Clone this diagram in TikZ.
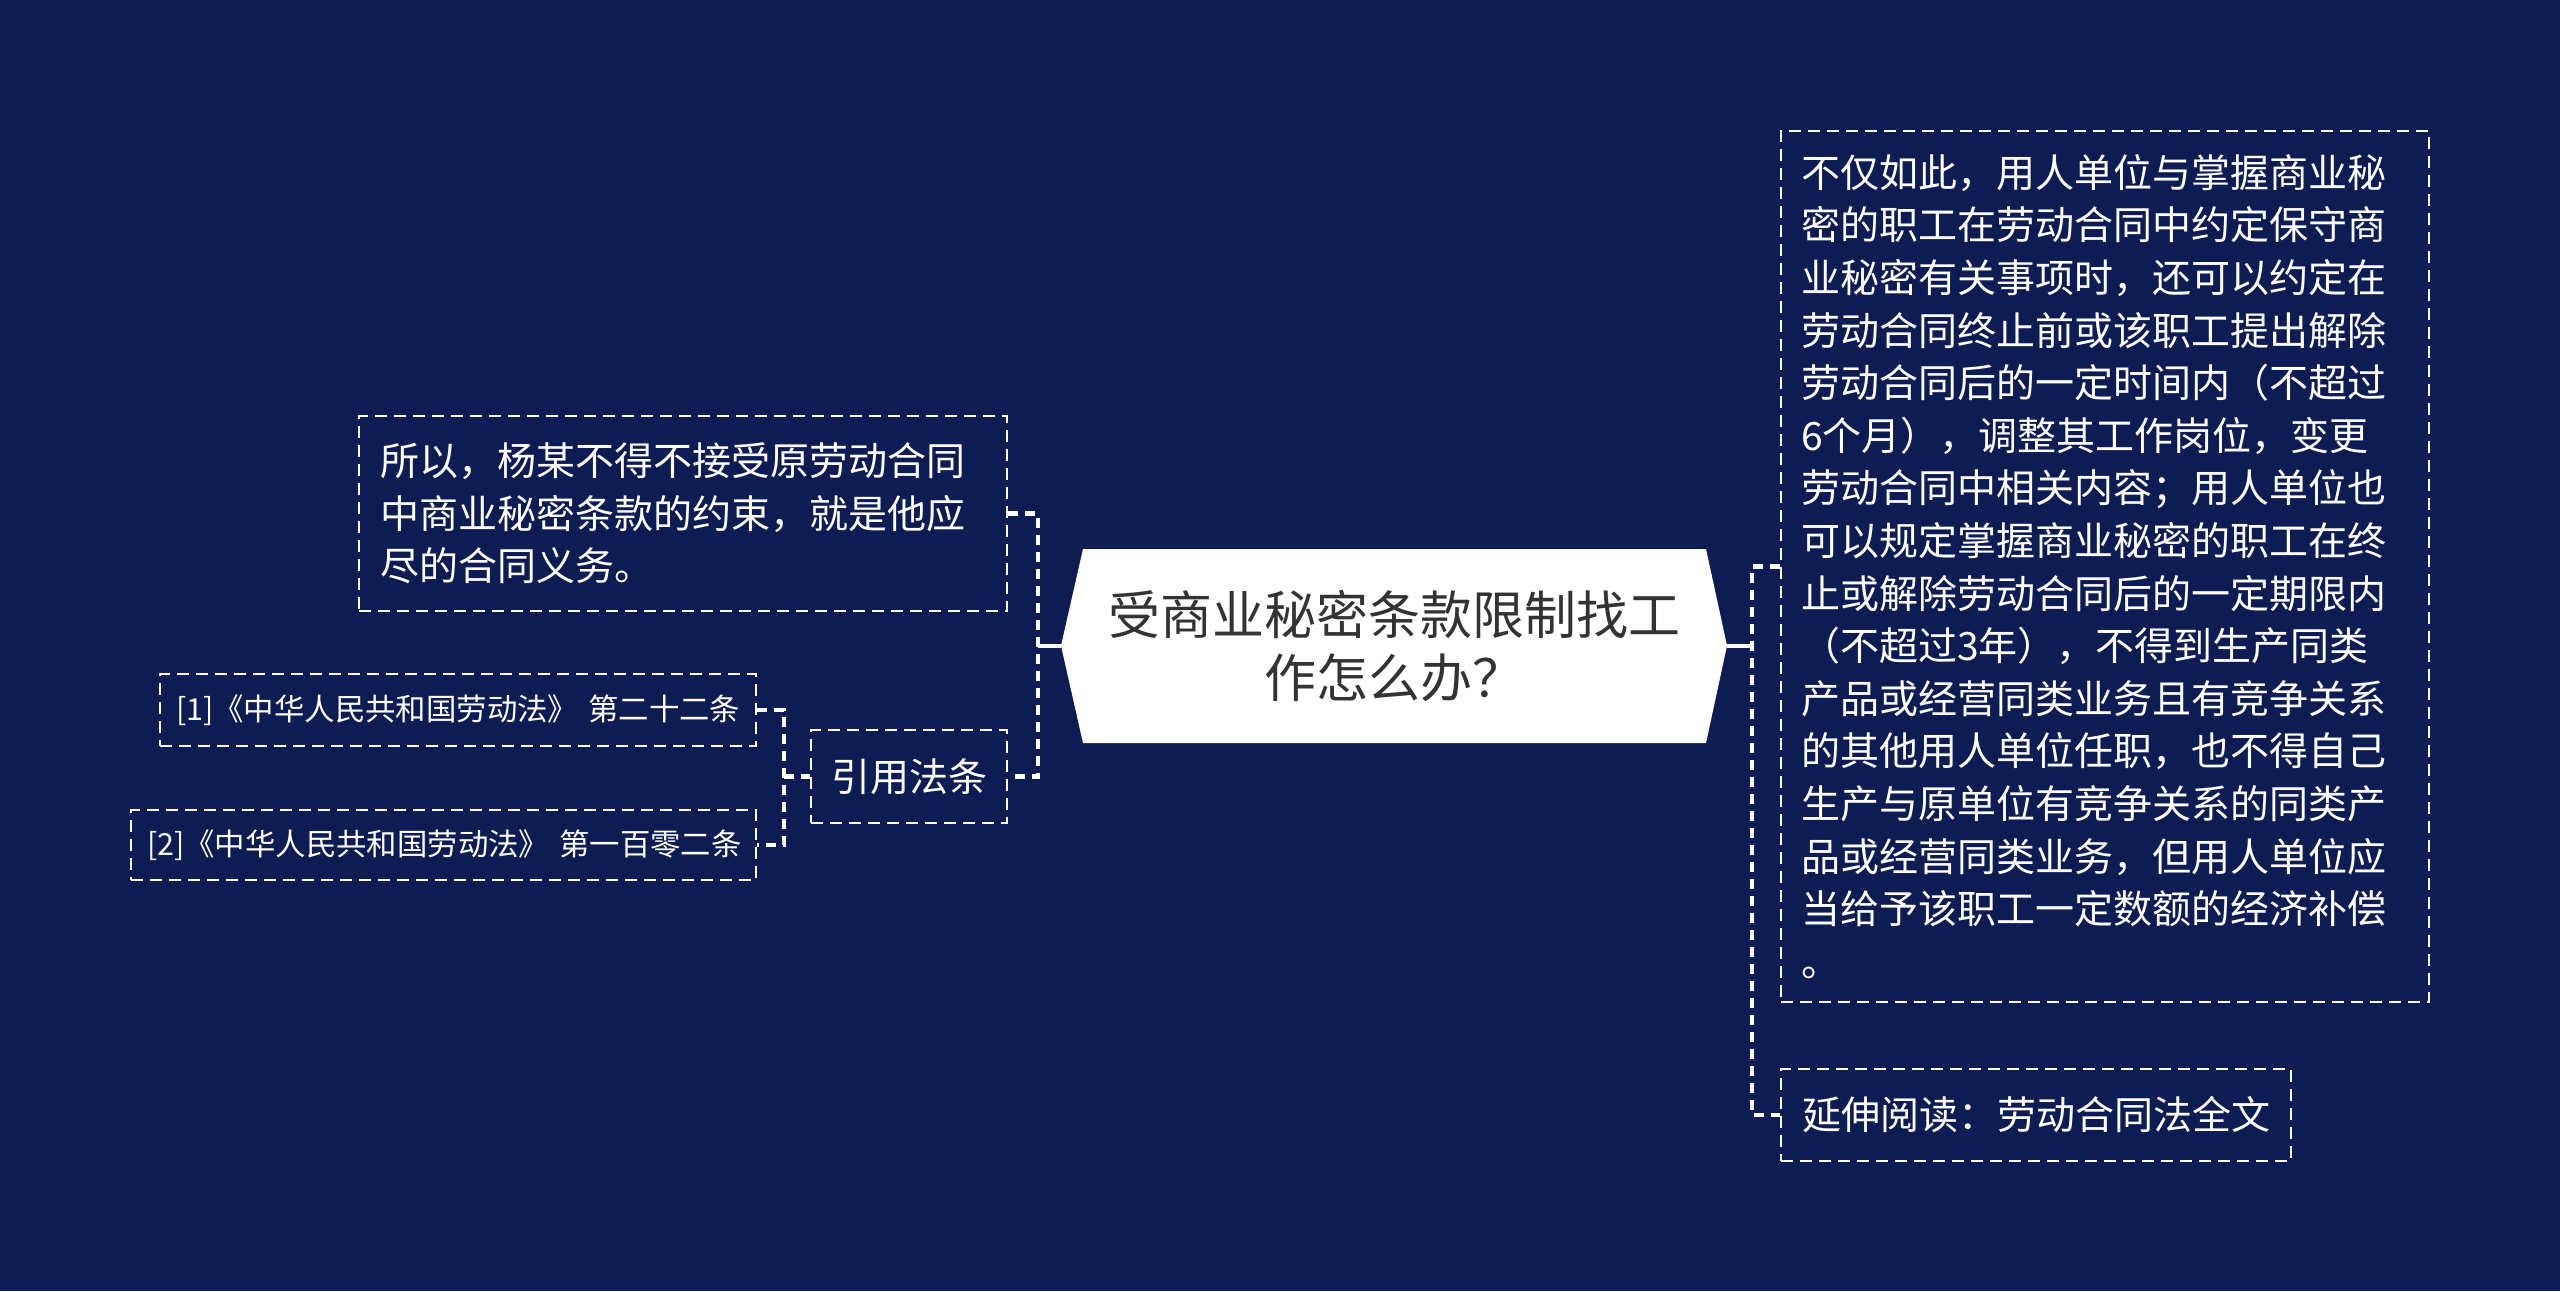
\documentclass[tikz,border=0pt]{standalone}
\usepackage{fontspec}
\setmainfont{Noto Sans CJK SC}
\definecolor{bg}{RGB}{14,28,84}
\definecolor{tx}{RGB}{51,51,51}
\tikzset{
  box/.style={draw=white, line width=1.2pt, dash pattern=on 6pt off 3.5pt, text=white,
    inner ysep=0pt, align=left, anchor=center},
  bodyfont/.style={font=\fontsize{19.5pt}{26.3pt}\selectfont},
  smallfont/.style={font=\fontsize{15.2pt}{18pt}\selectfont},
  conn/.style={draw=white, line width=2.2pt, dash pattern=on 5pt off 3.5pt},
  solidconn/.style={draw=white, line width=2.2pt},
}
\begin{document}
\begin{tikzpicture}[x=1pt,y=-1pt]
\fill[bg] (0,0) rectangle (1280,645.5);
\useasboundingbox (0,0) rectangle (1280,645.5);

% central topic
\fill[white] (530.5,322.85) -- (541.5,274.5) -- (853,274.5) -- (863.5,322.85) -- (853,371.5) -- (541.5,371.5) -- cycle;
\coordinate (cl) at (530.5,322.85);
\coordinate (cr) at (863.5,322.85);
\node[text=tx, align=center, font=\fontsize{26pt}{31.5pt}\selectfont] (c) at (697,322.85)
  {受商业秘密条款限制找工\\作怎么办？};

% left nodes
\node[box, bodyfont, inner xsep=10.5pt, text width=303pt, minimum width=324pt, minimum height=97.5pt] (n1) at (341.5,256.75)
  {所以，杨某不得不接受原劳动合同\\中商业秘密条款的约束，就是他应\\尽的合同义务。};
\node[box, bodyfont, inner xsep=10pt, text width=78pt, minimum width=98pt, minimum height=46.5pt] (cite) at (454.5,388.25)
  {引用法条};
\node[box, smallfont, inner xsep=8pt, text width=282pt, minimum width=298pt, minimum height=36pt] (c1) at (229,355)
  {\mbox{[1]《中华人民共和国劳动法》\ 第二十二条}};
\node[box, smallfont, inner xsep=8pt, text width=296.5pt, minimum width=312.5pt, minimum height=35pt] (c2) at (221.75,422.5)
  {\mbox{[2]《中华人民共和国劳动法》\ 第一百零二条}};

% right nodes
\node[box, bodyfont, inner xsep=10pt, text width=304pt, minimum width=324pt, minimum height=435.5pt] (r1) at (1052.5,283.25)
  {不仅如此，用人单位与掌握商业秘\\密的职工在劳动合同中约定保守商\\业秘密有关事项时，还可以约定在\\劳动合同终止前或该职工提出解除\\劳动合同后的一定时间内（不超过\\6个月），调整其工作岗位，变更\\劳动合同中相关内容；用人单位也\\可以规定掌握商业秘密的职工在终\\止或解除劳动合同后的一定期限内\\（不超过3年），不得到生产同类\\产品或经营同类业务且有竞争关系\\的其他用人单位任职，也不得自己\\生产与原单位有竞争关系的同类产\\品或经营同类业务，但用人单位应\\当给予该职工一定数额的经济补偿\\。};
\node[box, bodyfont, inner xsep=10.5pt, text width=234pt, minimum width=255pt, minimum height=46pt] (r2) at (1018,557.5)
  {延伸阅读：劳动合同法全文};

% connectors
\coordinate (lt) at (519,322.85);
\coordinate (lt2) at (392,388.25);
\coordinate (rt) at (876,322.85);
\draw[solidconn] (cl) -- (lt);
\draw[conn] (n1.east) -- (n1.east -| lt) -- (cite.east -| lt) -- (cite.east);
\draw[conn] (c1.east) -- (c1.east -| lt2) -- (c2.east -| lt2) -- (c2.east);
\draw[conn] (lt2) -- (cite.west);
\draw[solidconn] (cr) -- (rt);
\draw[conn] (r1.west) -- (r1.west -| rt) -- (r2.west -| rt) -- (r2.west);
\end{tikzpicture}
\end{document}
